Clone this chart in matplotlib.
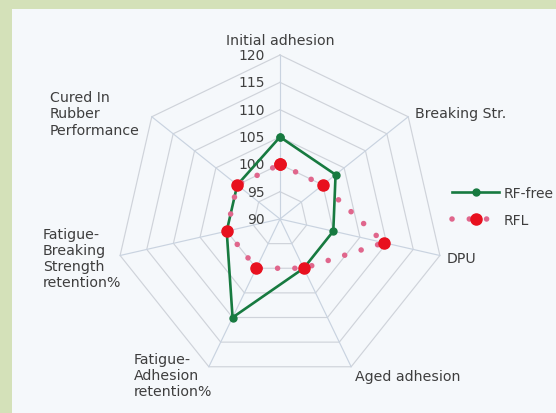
import numpy as np
import matplotlib
matplotlib.use("Agg")
import matplotlib.pyplot as plt
from matplotlib.patches import Rectangle
from matplotlib.transforms import offset_copy

# ---- data ----
categories = ["Initial adhesion", "Breaking Str.", "DPU", "Aged adhesion",
              "Fatigue-\nAdhesion\nretention%",
              "Fatigue-\nBreaking\nStrength\nretention%",
              "Cured In\nRubber\nPerformance"]
rf_free = [105, 103, 100, 100, 110, 100, 100]
rfl = [100, 100, 109.5, 100, 100, 100, 100]
series_names = ["RF-free", "RFL"]
r_ticks = [90, 95, 100, 105, 110, 115, 120]

W, H = 556, 414
fig = plt.figure(figsize=(W / 100, H / 100), dpi=100)
fig.patch.set_facecolor("#d4e1b9")
fig.patches.append(Rectangle((12 / W, 0), 1 - 12 / W, 1 - 10 / H,
                             transform=fig.transFigure, facecolor="#f5f8fb",
                             edgecolor="none", zorder=-5))

cx, cy, R = 280, 220, 164
ax = fig.add_axes([(cx - R) / W, (H - cy - R) / H, 2 * R / W, 2 * R / H],
                  projection="polar")
ax.set_zorder(2)
ax.set_theta_offset(np.pi / 2)
ax.set_theta_direction(-1)
ax.set_ylim(r_ticks[0], r_ticks[-1])
ax.set_axis_off()

n = len(categories)
theta = np.linspace(0, 2 * np.pi, n, endpoint=False)
theta_c = np.append(theta, theta[0])

# heptagon grid
for rv in r_ticks[1:]:
    ax.plot(theta_c, [rv] * (n + 1), color="#cfd3da", lw=0.85, zorder=1,
            clip_on=False)
for t in theta:
    ax.plot([t, t], [r_ticks[0], r_ticks[-1]], color="#c9d3e0", lw=0.85,
            zorder=1, clip_on=False)

# tick labels
tick_tr = offset_copy(ax.transData, fig=fig, x=-11, y=0, units="points")
for rv in r_ticks:
    ax.text(0, rv, str(rv), transform=tick_tr, ha="right", va="center",
            fontsize=10, color="#404040", zorder=3)

# series
ax.plot(theta_c, rf_free + rf_free[:1], color="#177a40", lw=1.9,
        marker="o", ms=5, mfc="#177a40", mec="#177a40", zorder=4,
        label=series_names[0], clip_on=False)
ax.plot(theta_c, rfl + rfl[:1], color="#e0668c", lw=4.0,
        linestyle=(0, (0.01, 3.1)), dash_capstyle="round",
        marker="o", ms=8, mfc="#e8101e", mec="#e8101e", zorder=5,
        label=series_names[1], clip_on=False)

# category labels (pixel layout)
label_pos = [(280, 41, "center"), (415, 114, "left"), (447, 259, "left"),
             (355, 377, "left"), (134, 376, "left"), (43, 259, "left"),
             (50, 114.5, "left")]
for name, (px, py, ha) in zip(categories, label_pos):
    fig.text(px / W, 1 - py / H, name, ha=ha, va="center", fontsize=10.2,
             color="#3e3e3e", linespacing=1.2, multialignment="left")

handles, labels = ax.get_legend_handles_labels()
fig.legend(handles, labels, loc="center left",
           bbox_to_anchor=(452 / W, 1 - 207.5 / H), frameon=False,
           borderpad=0, borderaxespad=0, handlelength=3.4,
           handletextpad=0.3, labelspacing=0.95, fontsize=10,
           labelcolor="#3e3e3e")

fig.savefig("out.png", dpi=100, facecolor=fig.get_facecolor())
